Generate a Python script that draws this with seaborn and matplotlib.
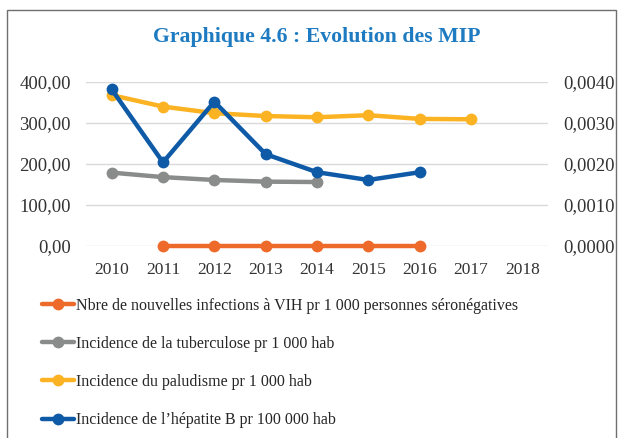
import pandas as pd
import matplotlib.pyplot as plt
import seaborn as sns
from matplotlib.patches import Rectangle
from matplotlib.ticker import FuncFormatter

# data
years = ['2010', '2011', '2012', '2013', '2014', '2015', '2016', '2017', '2018']
vih_years = ['2011', '2012', '2013', '2014', '2015', '2016']
vih = [0, 0, 0, 0, 0, 0]
tb_years = ['2010', '2011', '2012', '2013', '2014']
tb = [179, 168, 161, 157, 156]
palu_years = ['2010', '2011', '2012', '2013', '2014', '2015', '2016', '2017']
palu = [368, 340, 324, 317, 314, 319, 310, 309]
hepb_years = ['2010', '2011', '2012', '2013', '2014', '2015', '2016']
hepb = [382, 204, 352, 224, 180, 161, 180]

labels = ['Nbre de nouvelles infections à VIH pr 1 000 personnes séronégatives',
          'Incidence de la tuberculose pr 1 000 hab',
          'Incidence du paludisme pr 1 000 hab',
          "Incidence de l\u2019hépatite B pr 100 000 hab"]
colors = ['#EE6A2A', '#8A8C8C', '#FBB323', '#0E5AA7']

sns.set_style('white')
plt.rcParams['font.family'] = ['Liberation Serif', 'DejaVu Serif']

fig = plt.figure(figsize=(6.23, 4.38), dpi=100)
ax = fig.add_axes([86 / 623, 1 - 246 / 438, 462 / 623, 164 / 438])

pos = {y: i for i, y in enumerate(years)}
series = [(vih_years, vih), (tb_years, tb), (palu_years, palu), (hepb_years, hepb)]
handles = []
for (xs, ys), lab, c in zip(series, labels, colors):
    df = pd.DataFrame({'x': [pos[x] for x in xs], 'y': ys})
    sns.lineplot(data=df, x='x', y='y', ax=ax, color=c, lw=3.2, marker='o',
                 markersize=8.5, markeredgewidth=0, label=lab, legend=False, clip_on=False)
    handles.append(ax.lines[-1])

ax.set_xlim(-0.5, len(years) - 0.5)
ax.set_ylim(0, 400)
ax.set_xticks(range(len(years)))
ax.set_xticklabels(years)
ax.set_yticks([0, 100, 200, 300, 400])
ax.yaxis.set_major_formatter(FuncFormatter(lambda v, p: f'{v:.2f}'.replace('.', ',')))
ax.grid(axis='y', color='#D9D9D9', lw=1)
ax.set_axisbelow(True)
for s in ax.spines.values():
    s.set_visible(False)
ax.tick_params(axis='x', length=0, labelsize=12.5, colors='#333333', pad=11.5)
ax.tick_params(axis='y', length=0, labelsize=13.5, colors='#333333', pad=11)
ax.set_xlabel('')
ax.set_ylabel('')

ax2 = ax.twinx()
ax2.set_ylim(0, 0.004)
ax2.set_yticks([0, 0.001, 0.002, 0.003, 0.004])
ax2.yaxis.set_major_formatter(FuncFormatter(lambda v, p: f'{v:.4f}'.replace('.', ',')))
for s in ax2.spines.values():
    s.set_visible(False)
ax2.tick_params(axis='y', length=0, labelsize=13.5, colors='#333333', pad=11)
ax2.grid(False)

fig.text(317 / 623, 1 - 37 / 438, 'Graphique 4.6 : Evolution des MIP', ha='center', va='center',
         fontsize=15.7, fontweight='bold', color='#1F7BC1')

fig.legend(handles=handles, labels=labels, loc='upper left', bbox_to_anchor=(42 / 623, 1 - 298 / 438),
           frameon=False, fontsize=11.5, handlelength=2.0, handletextpad=0.1, labelspacing=1.38,
           borderaxespad=0, borderpad=0)

fig.patches.append(Rectangle((7 / 623, -0.05), 609 / 623, 1.05 - 10 / 438, transform=fig.transFigure,
                             fill=False, edgecolor='#6F6F6F', lw=1))

fig.savefig('out.png', dpi=100)
